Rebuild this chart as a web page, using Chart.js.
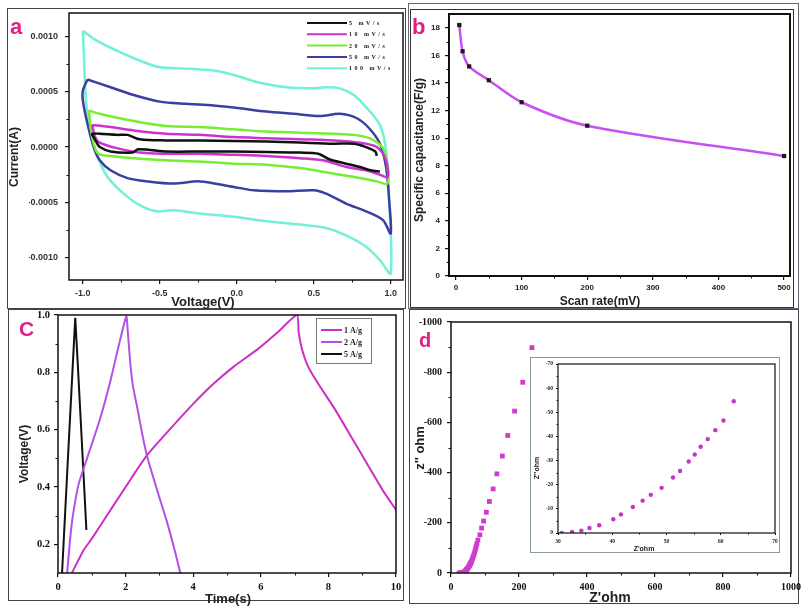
<!DOCTYPE html>
<html><head><meta charset="utf-8">
<script src="https://cdn.jsdelivr.net/npm/chart.js@4.4.1/dist/chart.umd.min.js"></script>
<style>
html,body{margin:0;padding:0;background:#fff;}
#wrap{position:relative;width:803px;height:606px;overflow:hidden;background:#fff;}
canvas{position:absolute;left:0;top:0;}
.frame{position:absolute;box-sizing:border-box;}
.inset{position:absolute;border:1.5px solid #8a9a9a;background:#fff;box-sizing:border-box;}
.lbl{position:absolute;font:bold 22px "Liberation Sans",Arial,sans-serif;color:#de1f86;line-height:22px;}
</style></head>
<body><div id="wrap">
<div class="frame" style="left:7px;top:8px;width:399px;height:301px;border:1.5px solid #444"></div>
<div class="frame" style="left:408px;top:3px;width:391px;height:306px;border:1px solid #667"></div>
<div class="frame" style="left:410px;top:9px;width:384px;height:299px;border:1.5px solid #333"></div>
<div class="frame" style="left:8px;top:309px;width:396px;height:292px;border:1.5px solid #444"></div>
<div class="frame" style="left:409px;top:309px;width:390px;height:295px;border:1.5px solid #444"></div>
<canvas id="ca" width="803" height="606"></canvas>
<canvas id="cb" width="803" height="606"></canvas>
<canvas id="cc" width="803" height="606"></canvas>
<canvas id="cd" width="803" height="606"></canvas>
<div class="inset" style="left:530px;top:357px;width:250px;height:196px"></div>
<canvas id="ci" width="803" height="606"></canvas>
<div class="lbl" style="left:10px;top:16px">a</div>
<div class="lbl" style="left:412px;top:16px">b</div>
<div class="lbl" style="left:19px;top:318px;font-size:21px">C</div>
<div class="lbl" style="left:419px;top:329px;font-size:20px">d</div>
</div>
<script>
// ---------- Panel a : cyclic voltammetry ----------
const aXTicks = [-1.0, -0.5, 0.0, 0.5, 1.0];
const aYTicks = [-0.0010, -0.0005, 0.0000, 0.0005, 0.0010];
const cvLabels = ['5 mV/s', '10 mV/s', '20 mV/s', '50 mV/s', '100 mV/s'];
// voltage (V) and current (mA) read along each loop
const v5  = [0.93,0.87,0.80,0.71,0.60,0.53,0.41,0.19,-0.02,-0.24,-0.45,-0.64,-0.68,-0.82,-0.89,-0.91,-0.93,-0.94,-0.89,-0.78,-0.71,-0.63,-0.46,-0.24,-0.02,0.19,0.41,0.63,0.76,0.84,0.90,0.91];
const i5  = [-0.22,-0.21,-0.18,-0.15,-0.11,-0.06,-0.05,-0.045,-0.04,-0.04,-0.04,-0.02,-0.05,-0.04,0.0,0.04,0.09,0.12,0.12,0.11,0.11,0.07,0.06,0.06,0.055,0.05,0.04,0.03,0.03,0.0,-0.04,-0.08];
const v10 = [-0.94,-0.82,-0.67,-0.46,-0.24,-0.02,0.19,0.41,0.63,0.80,0.91,0.97,0.98,0.93,0.84,0.71,0.56,0.41,0.19,-0.02,-0.24,-0.46,-0.63,-0.78,-0.89,-0.92,-0.94];
const i10 = [0.20,0.18,0.15,0.12,0.11,0.09,0.08,0.07,0.06,0.04,0.0,-0.12,-0.27,-0.25,-0.21,-0.18,-0.12,-0.10,-0.08,-0.07,-0.06,-0.06,-0.05,-0.01,0.04,0.09,0.20];
const v20 = [-0.96,-0.89,-0.76,-0.61,-0.46,-0.24,-0.02,0.19,0.41,0.63,0.76,0.86,0.95,0.98,0.98,0.91,0.80,0.63,0.41,0.19,-0.02,-0.24,-0.46,-0.67,-0.82,-0.90,-0.93,-0.95,-0.96];
const i20 = [0.33,0.30,0.26,0.22,0.19,0.18,0.16,0.14,0.13,0.12,0.11,0.08,-0.01,-0.18,-0.33,-0.31,-0.28,-0.24,-0.19,-0.16,-0.15,-0.13,-0.12,-0.10,-0.08,-0.06,0.03,0.18,0.33];
const v50 = [-0.97,-0.82,-0.67,-0.50,-0.33,-0.15,0.02,0.19,0.37,0.54,0.67,0.78,0.86,0.93,0.97,0.99,1.00,0.95,0.84,0.71,0.58,0.50,0.32,0.11,-0.02,-0.24,-0.41,-0.58,-0.71,-0.82,-0.89,-0.93,-0.97,-1.00,-1.00,-0.97];
const i50 = [0.61,0.54,0.47,0.41,0.39,0.375,0.35,0.32,0.30,0.28,0.30,0.26,0.17,0.03,-0.18,-0.48,-0.78,-0.66,-0.58,-0.51,-0.42,-0.39,-0.40,-0.39,-0.36,-0.31,-0.33,-0.31,-0.28,-0.21,-0.12,0.0,0.21,0.42,0.51,0.61];
const v100 = [-1.00,-0.91,-0.78,-0.63,-0.50,-0.35,-0.15,-0.02,0.15,0.32,0.50,0.58,0.67,0.76,0.84,0.93,0.97,0.99,1.00,0.93,0.84,0.73,0.58,0.41,0.19,-0.02,-0.24,-0.41,-0.52,-0.61,-0.71,-0.84,-0.91,-0.95,-0.98,-0.99,-1.00];
const i100 = [1.05,0.96,0.87,0.78,0.72,0.71,0.69,0.65,0.58,0.54,0.53,0.54,0.53,0.47,0.36,0.20,-0.03,-0.48,-1.14,-1.02,-0.90,-0.81,-0.73,-0.70,-0.67,-0.63,-0.60,-0.57,-0.58,-0.54,-0.45,-0.27,-0.06,0.15,0.42,0.72,1.05];

// ---------- Panel b : specific capacitance ----------
const scanRate = [5, 10, 20, 50, 100, 200, 500];
const capacitance = [18.2, 16.3, 15.2, 14.2, 12.6, 10.9, 8.7];
const bXTicks = [0, 100, 200, 300, 400, 500];
const bYTicks = [0, 2, 4, 6, 8, 10, 12, 14, 16, 18];

// ---------- Panel c : charge/discharge ----------
const gcdLabels = ['1 A/g', '2 A/g', '5 A/g'];
const cTime1 = [0.41,0.76,1.0,1.5,2.0,2.63,3.3,4.0,4.6,5.2,5.9,6.5,7.07,7.12,7.22,7.4,7.7,8.2,8.7,9.2,9.6,10.0];
const cVolt1 = [0.10,0.18,0.22,0.31,0.40,0.51,0.60,0.69,0.76,0.82,0.88,0.94,1.00,0.94,0.88,0.82,0.76,0.67,0.57,0.47,0.39,0.32];
const cTime2 = [0.27,0.36,0.44,0.61,0.86,1.25,1.55,1.79,2.02,2.06,2.14,2.22,2.34,2.5,2.63,2.93,3.22,3.45,3.62];
const cVolt2 = [0.10,0.22,0.30,0.41,0.50,0.64,0.77,0.89,0.995,0.95,0.83,0.75,0.68,0.58,0.51,0.39,0.28,0.18,0.10];
const cTime5 = [0.12,0.32,0.51,0.58,0.70,0.84];
const cVolt5 = [0.10,0.56,0.99,0.84,0.57,0.25];
const cXTicks = [0, 2, 4, 6, 8, 10];
const cYTicks = [0.2, 0.4, 0.6, 0.8, 1.0];

// ---------- Panel d : Nyquist ----------
const zRe = [24,26,28,30.7,32.6,34.3,35.8,37.6,40.2,41.6,43.8,45.6,47.1,49.1,51.2,52.5,54.1,55.2,56.3,57.6,59.0,60.5,62.4,64,66,68,70,72,74,76,79,85,90,96,104,113,124,135,151,167,187,211,238];
const zIm = [0,0,0,0,-0.4,-1,-2.1,-3.2,-5.7,-7.7,-10.8,-13.4,-15.8,-18.7,-23,-25.7,-29.6,-32.5,-35.7,-38.9,-42.6,-46.6,-54.6,-60,-68,-76,-85,-95,-105,-116,-131,-152,-179,-207,-242,-285,-335,-395,-466,-548,-645,-760,-898];
const dXTicks = [0, 200, 400, 600, 800, 1000];
const dYTicks = [0, -200, -400, -600, -800, -1000];
// inset
const zReIn = [30.7,32.6,34.3,35.8,37.6,40.2,41.6,43.8,45.6,47.1,49.1,51.2,52.5,54.1,55.2,56.3,57.6,59.0,60.5,62.4];
const zImIn = [0,-0.4,-1.0,-2.1,-3.2,-5.7,-7.7,-10.8,-13.4,-15.8,-18.7,-23.0,-25.7,-29.6,-32.5,-35.7,-38.9,-42.6,-46.6,-54.6];
const iXTicks = [30, 40, 50, 60, 70];
const iYTicks = [0, -10, -20, -30, -40, -50, -60, -70];

// ---------- helpers ----------
const W = 803, H = 606, YW = 40, XH = 25;
Chart.defaults.font.family = '"Liberation Sans", Arial, sans-serif';
Chart.defaults.animation = false;
const pts = (xs, ys, k = 1) => xs.map((x, i) => ({x, y: ys[i] * k}));
const mids = a => a.slice(1).map((v, i) => (v + a[i]) / 2);

const framePlugin = {
  id: 'frame',
  afterDraw(chart, args, o) {
    const {ctx, chartArea: a} = chart;
    ctx.save();
    ctx.strokeStyle = o.color || '#111';
    ctx.lineWidth = o.width || 1.5;
    ctx.strokeRect(a.left, a.top, a.right - a.left, a.bottom - a.top);
    ctx.lineWidth = o.tickWidth || 1;
    const len = o.minorLen || 2.5;
    (o.minorX || []).forEach(v => {
      const p = Math.round(chart.scales.x.getPixelForValue(v)) + 0.5;
      ctx.beginPath(); ctx.moveTo(p, a.bottom); ctx.lineTo(p, a.bottom + len); ctx.stroke();
    });
    (o.minorY || []).forEach(v => {
      const p = Math.round(chart.scales.y.getPixelForValue(v)) + 0.5;
      ctx.beginPath(); ctx.moveTo(a.left, p); ctx.lineTo(a.left - len, p); ctx.stroke();
    });
    // axis titles
    (o.titles || []).forEach(t => {
      ctx.save();
      ctx.translate(t.x, t.y);
      if (t.rot) ctx.rotate(t.rot);
      ctx.font = t.font; ctx.fillStyle = t.color || '#222';
      ctx.textAlign = 'center'; ctx.textBaseline = 'middle';
      ctx.fillText(t.text, 0, 0);
      ctx.restore();
    });
    // mini legend
    const L = o.legend;
    if (L) {
      if (L.box) { ctx.strokeStyle = '#777'; ctx.lineWidth = 1; ctx.strokeRect(L.box[0] + 0.5, L.box[1] + 0.5, L.box[2], L.box[3]); }
      chart.data.datasets.forEach((ds, i) => {
        const y = L.y + i * L.dy;
        ctx.strokeStyle = ds.borderColor; ctx.lineWidth = L.lw;
        ctx.beginPath(); ctx.moveTo(L.x, y); ctx.lineTo(L.x + L.len, y); ctx.stroke();
        ctx.font = L.font; ctx.fillStyle = '#222'; ctx.textAlign = 'left'; ctx.textBaseline = 'middle';
        if ('letterSpacing' in ctx) ctx.letterSpacing = L.ls || '0px';
        ctx.fillText(ds.label, L.x + L.len + 2, y + 0.5);
        if ('letterSpacing' in ctx) ctx.letterSpacing = '0px';
      });
    }
    ctx.restore();
  }
};

function axis(o, horizontal) {
  return {
    type: 'linear', min: o.min, max: o.max, reverse: !!o.reverse,
    position: horizontal ? 'bottom' : 'left',
    afterBuildTicks: s => { s.ticks = o.ticks.map(v => ({value: v})); },
    afterFit: s => {
      if (horizontal) s.height = XH; else s.width = YW;
      s.paddingTop = 0; s.paddingBottom = 0; s.paddingLeft = 0; s.paddingRight = 0;
    },
    ticks: {callback: o.fmt, font: o.font, color: o.color || '#222', padding: o.pad, autoSkip: false, maxRotation: 0, minRotation: 0},
    grid: {drawOnChartArea: false, drawTicks: true, tickLength: o.tl || 4, color: '#111', lineWidth: o.tw || 1.2},
    border: {display: false},
    title: {display: false}
  };
}

function make(id, area, datasets, xo, yo, frame) {
  return new Chart(document.getElementById(id), {
    type: 'scatter',
    data: {datasets},
    options: {
      responsive: false, animation: false, events: [],
      layout: {padding: {left: area.l - YW, top: area.t, right: W - area.r, bottom: H - area.b - XH}},
      plugins: {legend: {display: false}, tooltip: {enabled: false}, frame},
      scales: {x: axis(xo, true), y: axis(yo, false)}
    },
    plugins: [framePlugin]
  });
}

const line = (label, xs, ys, color, k, lw, tension) => ({
  label, data: pts(xs, ys, k), showLine: true, borderColor: color, backgroundColor: color,
  borderWidth: lw, pointRadius: 0, tension, fill: false
});

// ---- Panel a ----
const sansB9 = {family: '"Liberation Sans", Arial, sans-serif', size: 9, weight: 'bold'};
make('ca', {l: 69, t: 13, r: 403, b: 280}, [
  line(cvLabels[0], v5, i5, '#111111', 1e-3, 2.5, 0.3),
  line(cvLabels[1], v10, i10, '#cc33cc', 1e-3, 2.5, 0.3),
  line(cvLabels[2], v20, i20, '#77ee33', 1e-3, 2.5, 0.3),
  line(cvLabels[3], v50, i50, '#3a3fa0', 1e-3, 2.5, 0.3),
  line(cvLabels[4], v100, i100, '#72f0d8', 1e-3, 2.5, 0.3)
],
  {min: -1.09, max: 1.08, ticks: aXTicks, fmt: v => v.toFixed(1), font: sansB9, color: '#333', pad: 4},
  {min: -0.00120, max: 0.00121, ticks: aYTicks, fmt: v => v.toFixed(4), font: sansB9, color: '#333', pad: 7},
  {minorX: mids(aXTicks), minorY: mids(aYTicks),
   titles: [
     {text: 'Current(A)', x: 15, y: 157, rot: -Math.PI / 2, font: 'bold 12px "Liberation Sans", Arial, sans-serif'},
     {text: 'Voltage(V)', x: 203, y: 302, font: 'bold 13px "Liberation Sans", Arial, sans-serif'}
   ],
   legend: {x: 307, y: 23, dy: 11.3, len: 40, lw: 2, font: 'bold 6px "Liberation Serif", serif', ls: '2.5px'}
  });

// ---- Panel b ----
const sansB8 = {family: '"Liberation Sans", Arial, sans-serif', size: 8, weight: 'bold'};
make('cb', {l: 449, t: 14, r: 790, b: 276}, [
  {label: 'Cs', data: pts(scanRate, capacitance), showLine: true, borderColor: '#c850f0', borderWidth: 2.5,
   tension: 0.3, pointStyle: 'rect', pointRadius: 3, pointBackgroundColor: '#1a1a1a', pointBorderColor: '#1a1a1a', pointBorderWidth: 0}
],
  {min: -10.7, max: 509, ticks: bXTicks, fmt: v => String(v), font: sansB8, pad: 3},
  {min: 0, max: 19, ticks: bYTicks, fmt: v => String(v), font: sansB8, pad: 5},
  {width: 2, minorX: mids(bXTicks), minorY: mids(bYTicks),
   titles: [
     {text: 'Specific capacitance(F/g)', x: 420, y: 150, rot: -Math.PI / 2, font: 'bold 12px "Liberation Sans", Arial, sans-serif'},
     {text: 'Scan rate(mV)', x: 600, y: 302, font: 'bold 12px "Liberation Sans", Arial, sans-serif'}
   ]});

// ---- Panel c ----
const serifB10 = {family: '"Liberation Serif", "Times New Roman", serif', size: 10.5, weight: 'bold'};
make('cc', {l: 58, t: 315, r: 396, b: 573}, [
  line(gcdLabels[0], cTime1, cVolt1, '#cc2fc4', 1, 2, 0.2),
  line(gcdLabels[1], cTime2, cVolt2, '#b450e6', 1, 2, 0.2),
  line(gcdLabels[2], cTime5, cVolt5, '#111111', 1, 2, 0)
],
  {min: 0, max: 10, ticks: cXTicks, fmt: v => String(v), font: serifB10, color: '#111', pad: 4},
  {min: 0.1, max: 1.0, ticks: cYTicks, fmt: v => v.toFixed(1), font: serifB10, color: '#111', pad: 4},
  {minorX: mids(cXTicks), minorY: mids(cYTicks),
   titles: [
     {text: 'Voltage(V)', x: 25, y: 454, rot: -Math.PI / 2, font: 'bold 12px "Liberation Sans", Arial, sans-serif'},
     {text: 'Time(s)', x: 228, y: 599, font: 'bold 13px "Liberation Sans", Arial, sans-serif'}
   ],
   legend: {box: [316, 318, 55, 45], x: 321, y: 330, dy: 12, len: 21, lw: 2, font: 'bold 8px "Liberation Serif", serif'}
  });

// ---- Panel d ----
const serifB10d = {family: '"Liberation Serif", "Times New Roman", serif', size: 10, weight: 'bold'};
make('cd', {l: 451, t: 322, r: 791, b: 573}, [
  {label: 'EIS', data: pts(zRe, zIm), pointStyle: 'rect', pointRadius: 3.4, pointBackgroundColor: '#cf3bcf', pointBorderWidth: 0}
],
  {min: 0, max: 1000, ticks: dXTicks, fmt: v => String(v), font: serifB10d, color: '#111', pad: 4},
  {min: -1000, max: 0, reverse: true, ticks: dYTicks, fmt: v => String(v), font: serifB10d, color: '#111', pad: 5},
  {minorX: mids(dXTicks), minorY: mids(dYTicks),
   titles: [
     {text: "z'' ohm", x: 420, y: 448, rot: -Math.PI / 2, font: 'bold 13px "Liberation Sans", Arial, sans-serif'},
     {text: "Z'ohm", x: 610, y: 598, font: 'bold 14px "Liberation Sans", Arial, sans-serif'}
   ]});

// ---- Inset ----
const serifB5 = {family: '"Liberation Serif", "Times New Roman", serif', size: 5.5, weight: 'bold'};
make('ci', {l: 558, t: 364, r: 775, b: 533}, [
  {label: 'inset', data: pts(zReIn, zImIn), pointStyle: 'circle', pointRadius: 2.2, pointBackgroundColor: '#c733c7', pointBorderWidth: 0}
],
  {min: 30, max: 70, ticks: iXTicks, fmt: v => String(v), font: serifB5, color: '#222', pad: 3, tl: 2, tw: 1},
  {min: -70, max: 0, reverse: true, ticks: iYTicks, fmt: v => String(v), font: serifB5, color: '#222', pad: 3, tl: 2, tw: 1},
  {width: 1.2, minorLen: 1.5, minorX: mids(iXTicks), minorY: mids(iYTicks),
   titles: [
     {text: "Z''ohm", x: 537, y: 468, rot: -Math.PI / 2, font: 'bold 7px "Liberation Sans", Arial, sans-serif'},
     {text: "Z'ohm", x: 644, y: 549, font: 'bold 7px "Liberation Sans", Arial, sans-serif'}
   ]});
</script>
</body></html>
